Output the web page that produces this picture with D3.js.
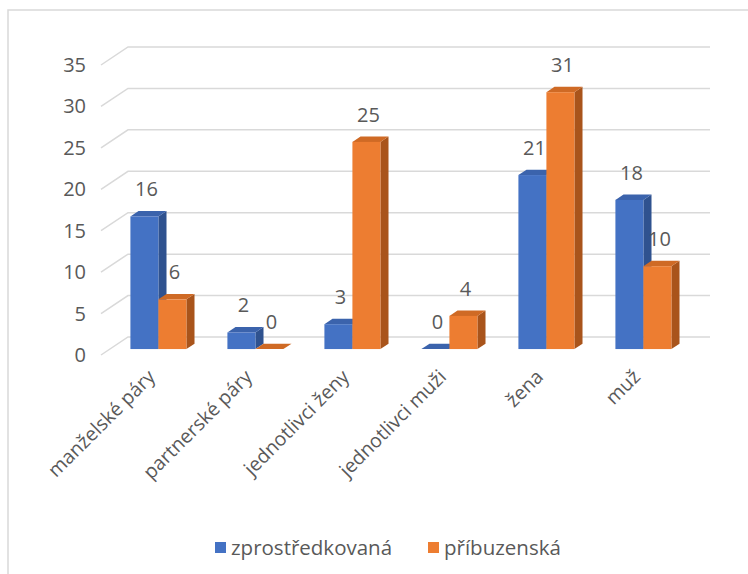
<!DOCTYPE html>
<meta charset="utf-8">
<script src="https://d3js.org/d3.v7.min.js"></script>
<style>
  body { margin: 0; background: #fff; }
  text { font-family: "Open Sans", sans-serif; fill: #595959; }
</style>
<div id="chart"></div>
<script>

// data
var categories = ["manželské páry", "partnerské páry", "jednotlivci ženy", "jednotlivci muži", "žena", "muž"];
var seriesNames = ["zprostředkovaná", "příbuzenská"];
var zprostredkovana = [16, 2, 3, 0, 21, 18];
var pribuzenska = [6, 0, 25, 4, 31, 10];
var yTicks = [0, 5, 10, 15, 20, 25, 30, 35];

var colors = ["#4472C4", "#ED7D31"];
var topColors = ["#3B63AC", "#CF6A25"];
var sideColors = ["#2F528F", "#A9541B"];

var width = 748, height = 574;

var svg = d3.select("#chart").append("svg")
    .attr("width", width)
    .attr("height", height);

// chart border
svg.append("rect")
    .attr("x", 8).attr("y", 10)
    .attr("width", 760).attr("height", 600)
    .attr("fill", "none")
    .attr("stroke", "#d9d9d9")
    .attr("stroke-width", 1.5);

// 3d depth of the plot (front -> back)
var depthX = 27, depthY = -18;
var front = {left: 101, right: 683, zero: 355};

var y = d3.scaleLinear()
    .domain([0, 35])
    .range([0, 290]);

// back wall gridlines + side wall lines
var grid = svg.append("g");
yTicks.forEach(function(t) {
  var fy = front.zero - y(t);
  grid.append("path")
      .attr("d", "M" + front.left + "," + fy +
                 "L" + (front.left + depthX) + "," + (fy + depthY) +
                 "L" + (front.right + depthX) + "," + (fy + depthY))
      .attr("fill", "none")
      .attr("stroke", "#d9d9d9")
      .attr("stroke-width", 1.5);
  grid.append("text")
      .attr("x", 86)
      .attr("y", fy)
      .attr("dy", "0.35em")
      .attr("text-anchor", "end")
      .style("font-size", "20px")
      .text(t);
});

// bars sit between these depth fractions
var d0 = 0.33, d1 = 0.63;
var bx0 = front.left + depthX * d0, by0 = front.zero + depthY * d0;
var bdx = depthX * (d1 - d0), bdy = depthY * (d1 - d0);

var x = d3.scaleBand()
    .domain(categories)
    .range([bx0, bx0 + (front.right - front.left)]);

var xInner = d3.scaleBand()
    .domain([0, 1])
    .range([-28, 28]);

var series = [zprostredkovana, pribuzenska];
var bars = svg.append("g");

// draw orange after blue in each category so side faces overlap correctly
categories.forEach(function(c, i) {
  series.forEach(function(vals, s) {
    var v = vals[i];
    var cx = x(c) + x.bandwidth() / 2;
    var x0 = cx + xInner(s), x1 = x0 + xInner.bandwidth();
    var yTop = by0 - y(v), yBot = by0;
    var g = bars.append("g");
    // side face
    g.append("path")
        .attr("d", "M" + x1 + "," + yBot + "L" + (x1 + bdx) + "," + (yBot + bdy) +
                   "L" + (x1 + bdx) + "," + (yTop + bdy) + "L" + x1 + "," + yTop + "Z")
        .attr("fill", sideColors[s]);
    // top face
    g.append("path")
        .attr("d", "M" + x0 + "," + yTop + "L" + x1 + "," + yTop +
                   "L" + (x1 + bdx) + "," + (yTop + bdy) + "L" + (x0 + bdx) + "," + (yTop + bdy) + "Z")
        .attr("fill", topColors[s]);
    // front face
    if (v > 0) {
      g.append("rect")
          .attr("x", x0).attr("y", yTop)
          .attr("width", x1 - x0).attr("height", yBot - yTop)
          .attr("fill", colors[s]);
    }
    // value label
    g.append("text")
        .attr("x", (x0 + x1) / 2 + 2)
        .attr("y", yTop - 20)
        .attr("text-anchor", "middle")
        .style("font-size", "20px")
        .text(v);
  });
});

// category labels
svg.append("g").selectAll("text")
  .data(categories)
  .enter().append("text")
    .attr("transform", function(d) {
      return "translate(" + (x(d) + x.bandwidth() / 2 - 2) + "," + 378 + ") rotate(-45)";
    })
    .attr("text-anchor", "end")
    .style("font-size", "19.5px")
    .text(function(d) { return d; });

// legend
var legend = svg.append("g");
var legendX = [215, 428];
seriesNames.forEach(function(n, s) {
  legend.append("rect")
      .attr("x", legendX[s]).attr("y", 542)
      .attr("width", 11).attr("height", 11)
      .attr("fill", colors[s]);
  legend.append("text")
      .attr("x", legendX[s] + 16)
      .attr("y", 548)
      .attr("dy", "0.35em")
      .style("font-size", "20.5px")
      .text(n);
});

</script>
